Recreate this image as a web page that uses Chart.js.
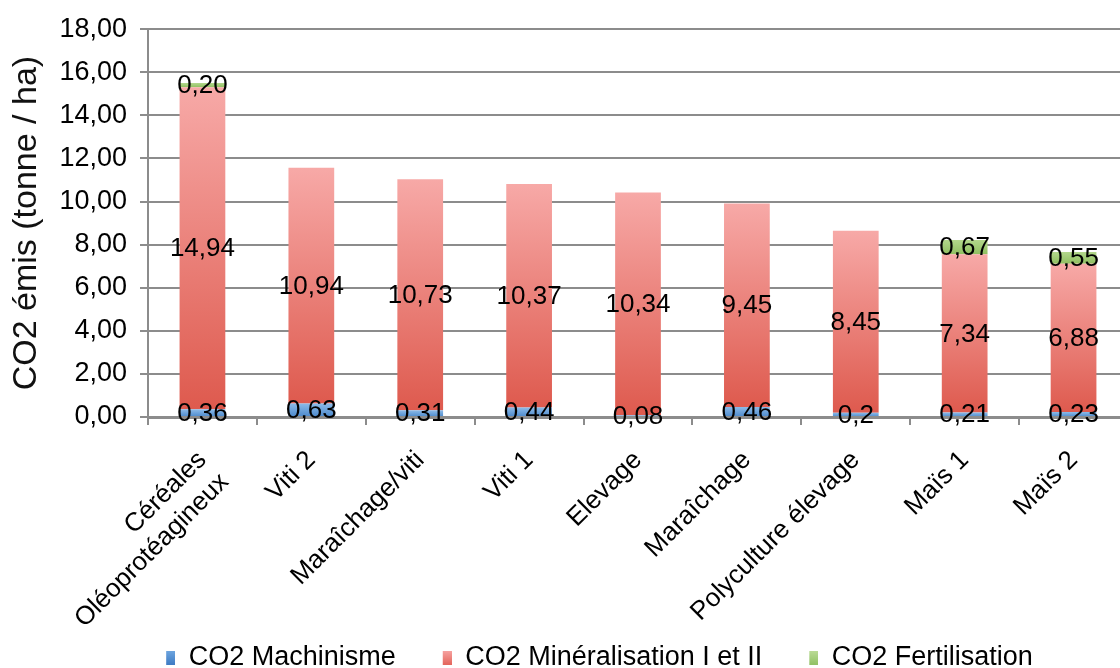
<!DOCTYPE html>
<html>
<head>
<meta charset="utf-8">
<script src="https://cdn.jsdelivr.net/npm/chart.js@4"></script>
<style>
  html, body { margin: 0; padding: 0; background: #fff; overflow: hidden; }
  #wrap { position: relative; width: 1128px; height: 681px; }
</style>
</head>
<body>
<div id="wrap"><canvas id="co2_chart"></canvas></div>
<script>
// categories
const categories = [
  ['Céréales', 'Oléoprotéagineux'], 'Viti 2', 'Maraîchage/viti', 'Viti 1', 'Elevage',
  'Maraîchage', 'Polyculture élevage', 'Maïs 1', 'Maïs 2'
];

// series values (tonne / ha)
const machinisme = [0.36, 0.63, 0.31, 0.44, 0.08, 0.46, 0.2, 0.21, 0.23];
const mineralisation = [14.94, 10.94, 10.73, 10.37, 10.34, 9.45, 8.45, 7.34, 6.88];
const fertilisation = [0.20, 0, 0, 0, 0, 0, 0, 0.67, 0.55];

// labels written on the bars
const machinismeLabels = ['0,36', '0,63', '0,31', '0,44', '0,08', '0,46', '0,2', '0,21', '0,23'];
const mineralisationLabels = ['14,94', '10,94', '10,73', '10,37', '10,34', '9,45', '8,45', '7,34', '6,88'];
const fertilisationLabels = ['0,20', '', '', '', '', '', '', '0,67', '0,55'];

const seriesNames = ['CO2 Machinisme', 'CO2 Minéralisation I et II', 'CO2 Fertilisation'];
const yTicks = [0, 2, 4, 6, 8, 10, 12, 14, 16, 18];

const FONT = "'Liberation Sans', Arial, sans-serif";
const allSeries = [machinisme, mineralisation, fertilisation];

// gradient per bar, light at the top, darker at the base
function barGradient(top, bottom) {
  return function(c) {
    const chart = c.chart;
    if (!chart.chartArea || c.dataIndex === undefined) return bottom;
    const y = chart.scales.y;
    let low = 0;
    for (let i = 0; i < c.datasetIndex; i++) low += allSeries[i][c.dataIndex];
    const high = low + allSeries[c.datasetIndex][c.dataIndex];
    const y0 = y.getPixelForValue(high);
    const y1 = y.getPixelForValue(low);
    if (!isFinite(y0) || !isFinite(y1) || y0 === y1) return bottom;
    const g = chart.ctx.createLinearGradient(0, y0, 0, y1);
    g.addColorStop(0, top);
    g.addColorStop(1, bottom);
    return g;
  };
}

// petit carré de légende, collé à droite d'une case plus large (pour l'espacement)
const LEGEND_SLOT = 36;
function legendBox(light, dark) {
  const c = document.createElement('canvas');
  c.width = LEGEND_SLOT;
  c.height = 14;
  const g = c.getContext('2d');
  const grad = g.createLinearGradient(0, 0, 0, 14);
  grad.addColorStop(0, light);
  grad.addColorStop(1, dark);
  g.fillStyle = grad;
  g.fillRect(LEGEND_SLOT - 9, 0, 9, 14);
  return c;
}

// valeurs écrites au centre de chaque segment
const barLabels = {
  id: 'barLabels',
  afterDatasetsDraw(chart) {
    const ctx = chart.ctx;
    const lists = [machinismeLabels, mineralisationLabels, fertilisationLabels];
    ctx.save();
    ctx.font = '26px ' + FONT;
    ctx.fillStyle = '#000';
    ctx.textAlign = 'center';
    ctx.textBaseline = 'middle';
    chart.data.datasets.forEach((ds, di) => {
      const meta = chart.getDatasetMeta(di);
      meta.data.forEach((bar, i) => {
        const txt = lists[di][i];
        if (!txt) return;
        ctx.fillText(txt, bar.x, (bar.y + bar.base) / 2 + 1);
      });
    });
    ctx.restore();
  }
};

// la légende est un peu décalée vers la droite dans l'original
const legendShift = {
  id: 'legendShift',
  afterLayout(chart) {
    if (!chart.legend) return;
    chart.legend.left += 22;
    chart.legend.right += 22;
  }
};

const ctx = document.getElementById('co2_chart').getContext('2d');

new Chart(ctx, {
  type: 'bar',
  data: {
    labels: categories,
    datasets: [
      {
        label: seriesNames[0],
        data: machinisme,
        backgroundColor: barGradient('#8dbbe8', '#4a88cc'),
        legendBox: legendBox('#6fa6e0', '#3f7cc4')
      },
      {
        label: seriesNames[1],
        data: mineralisation,
        backgroundColor: barGradient('#f7a9a7', '#de5a4e'),
        legendBox: legendBox('#f7a4a2', '#e4665c')
      },
      {
        label: seriesNames[2],
        data: fertilisation,
        backgroundColor: barGradient('#b3d78c', '#8fbf60'),
        legendBox: legendBox('#bcdc98', '#92c266')
      }
    ]
  },
  options: {
    responsive: true,
    maintainAspectRatio: false,
    animation: false,
    datasets: {
      bar: { barPercentage: 0.42, categoryPercentage: 1.0 }
    },
    layout: { padding: { left: 0, right: 0, top: 14, bottom: 0 } },
    plugins: {
      tooltip: { enabled: false },
      legend: {
        position: 'bottom',
        labels: {
          font: { family: FONT, size: 27 },
          color: '#000',
          usePointStyle: true,
          pointStyleWidth: LEGEND_SLOT,
          padding: 20,
          generateLabels(chart) {
            return chart.data.datasets.map((ds, i) => ({
              text: ds.label,
              pointStyle: ds.legendBox,
              fillStyle: 'transparent',
              strokeStyle: 'transparent',
              lineWidth: 0,
              datasetIndex: i,
              hidden: false
            }));
          }
        }
      }
    },
    scales: {
      x: {
        stacked: true,
        grid: {
          drawOnChartArea: false,
          color: '#8c8c8c',
          lineWidth: 2,
          tickLength: 8,
          offset: true
        },
        border: { color: '#8c8c8c', width: 3 },
        ticks: {
          minRotation: 45,
          maxRotation: 45,
          autoSkip: false,
          color: '#000',
          padding: 20,
          font: { family: FONT, size: 26 }
        },
        afterFit(scale) { scale.height = 207; }
      },
      y: {
        stacked: true,
        min: 0,
        max: 18,
        afterBuildTicks(scale) {
          scale.ticks = yTicks.map(v => ({ value: v }));
        },
        ticks: {
          color: '#000',
          padding: 13,
          font: { family: FONT, size: 27 },
          callback: v => v.toFixed(2).replace('.', ',')
        },
        grid: { color: '#8c8c8c', lineWidth: 2, tickLength: 8 },
        border: { color: '#8c8c8c', width: 2 },
        title: {
          display: true,
          text: 'CO2 émis (tonne / ha)',
          color: '#111',
          font: { family: FONT, size: 34 },
          padding: { top: 6, bottom: 0 }
        },
        afterFit(scale) { scale.width = 148; }
      }
    }
  },
  plugins: [barLabels, legendShift]
});
</script>
</body>
</html>
